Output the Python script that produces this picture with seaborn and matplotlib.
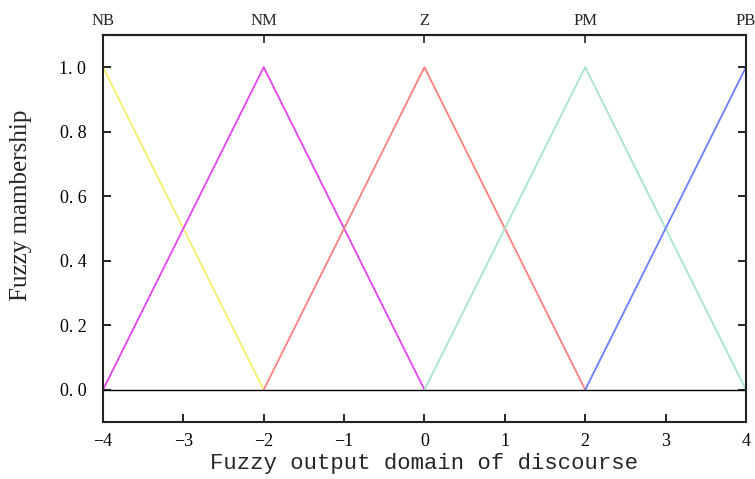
import pandas as pd
import seaborn as sns
import matplotlib.pyplot as plt

# membership functions: breakpoints (x) and membership (y) for each fuzzy set
labels = ['NB', 'NM', 'Z', 'PM', 'PB']
nb_x = [-4, -2]
nb_y = [1, 0]
nm_x = [-4, -2, 0]
nm_y = [0, 1, 0]
z_x = [-2, 0, 2]
z_y = [0, 1, 0]
pm_x = [0, 2, 4]
pm_y = [0, 1, 0]
pb_x = [2, 4]
pb_y = [0, 1]
centers = [-4, -2, 0, 2, 4]
colors = ['#f7ef6a', '#e543f5', '#ff7f7f', '#a6e6c9', '#6b7dff']

rows = []
for name, xs, ys in zip(labels, [nb_x, nm_x, z_x, pm_x, pb_x], [nb_y, nm_y, z_y, pm_y, pb_y]):
    for x, y in zip(xs, ys):
        rows.append({'x': x, 'y': y, 'set': name})
df = pd.DataFrame(rows)

sns.set_style('ticks')
plt.rcParams['font.family'] = ['Liberation Serif', 'DejaVu Serif']

fig = plt.figure(figsize=(7.55, 4.79), dpi=100)
ax = fig.add_axes([0.1364, 0.119, 0.8516, 0.808])

sns.lineplot(data=df, x='x', y='y', hue='set', palette=colors, hue_order=labels,
             legend=False, linewidth=1.3, ax=ax, estimator=None, sort=False)
ax.axhline(0, color='black', linewidth=1.0)

ax.set_xlim(-4, 4)
ax.set_ylim(-0.1, 1.1)
ax.set_xticks(range(-4, 5))
ax.set_xticklabels(['\u22124', '\u22123', '\u22122', '\u22121', '0', '1', '2', '3', '4'])
ax.set_yticks([0, 0.2, 0.4, 0.6, 0.8, 1.0])
ax.set_yticklabels(['0. 0', '0. 2', '0. 4', '0. 6', '0. 8', '1. 0'])
ax.tick_params(direction='in', length=6, width=1.2, labelsize=13, right=True, colors='black')
ax.tick_params(axis='x', pad=8)
ax.tick_params(axis='y', pad=12)

top = ax.secondary_xaxis('top')
top.set_xticks(centers)
top.set_xticklabels(labels)
top.tick_params(direction='in', length=6, width=1.2, labelsize=12, pad=4)

for sp in ax.spines.values():
    sp.set_linewidth(1.5)
    sp.set_color('#222222')
top.spines['top'].set_linewidth(1.5)

ax.set_xlabel('Fuzzy output domain of discourse', family='Liberation Mono', fontsize=16, labelpad=2)
ax.set_ylabel('Fuzzy mambership', fontsize=18)
ax.yaxis.set_label_coords(-0.11, 0.56)

fig.savefig('out.png', dpi=100)
